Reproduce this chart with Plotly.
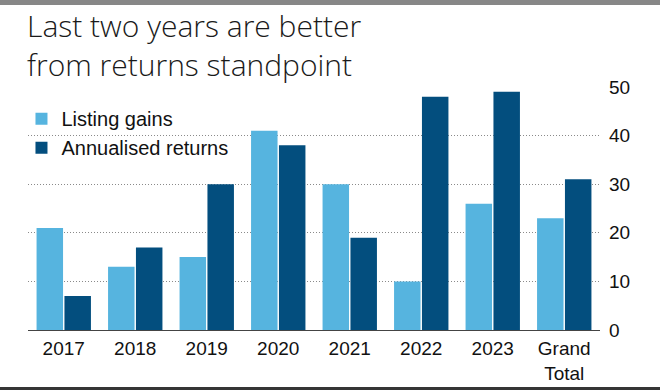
import plotly.graph_objects as go

categories = ["2017", "2018", "2019", "2020", "2021", "2022", "2023", "Grand<br>Total"]
listing_gains = [21, 13, 15, 41, 30, 10, 26, 23]
annualised_returns = [7, 17, 30, 38, 19, 48, 49, 31]
y_ticks = [0, 10, 20, 30, 40, 50]

LIGHT = "#56b4df"
DARK = "#034e7e"
TICK_FONT = "Liberation Sans, Arial, sans-serif"

fig = go.Figure()
fig.add_trace(go.Bar(name="Listing gains", x=categories, y=listing_gains,
                     marker=dict(color=LIGHT, line=dict(width=0))))
fig.add_trace(go.Bar(name="Annualised returns", x=categories, y=annualised_returns,
                     marker=dict(color=DARK, line=dict(width=0))))

fig.update_layout(
    width=660, height=390,
    margin=dict(l=28, r=60, t=87, b=60, autoexpand=False),
    paper_bgcolor="white", plot_bgcolor="white",
    barmode="group", bargap=0.22, bargroupgap=0.05,
    showlegend=True,
    legend=dict(x=-0.0114, y=0.95, xanchor="left", yanchor="top",
                font=dict(family=TICK_FONT, size=20, color="#111"),
                bgcolor="rgba(0,0,0,0)", itemwidth=30, tracegroupgap=0,
                traceorder="normal"),
    title=dict(text="Last two years are better<br>from returns standpoint",
               x=27 / 660, xref="container", xanchor="left",
               y=0.905, yref="container", yanchor="top",
               font=dict(family="Open Sans, Roboto, sans-serif", size=30,
                         color="#1a1a1a", weight=300)),
    xaxis=dict(showgrid=False, showline=True, linecolor="#444", linewidth=1,
               ticks="", ticklabelstandoff=1,
               tickfont=dict(family=TICK_FONT, size=19, color="#111"),
               automargin=False),
    yaxis=dict(side="right", range=[0, 50], tickvals=y_ticks,
               showgrid=True, gridcolor="#8a8a8a", griddash="1px,2px", gridwidth=1,
               zeroline=False, showline=False, ticks="", ticklabelstandoff=8,
               tickfont=dict(family=TICK_FONT, size=19, color="#111"),
               automargin=False),
    shapes=[
        dict(type="rect", xref="paper", yref="paper", x0=-0.1, x1=1.2,
             y0=1 + (87 - 5) / 243, y1=1.5, fillcolor="#878787",
             line=dict(width=0), layer="above"),
        dict(type="rect", xref="paper", yref="paper", x0=-0.1, x1=1.2,
             y0=-0.4, y1=-(387 - 330) / 243, fillcolor="#353535",
             line=dict(width=0), layer="above"),
    ],
)

fig.write_html("out.html", config={"displayModeBar": False},
               post_script="document.body.style.margin='0';")
